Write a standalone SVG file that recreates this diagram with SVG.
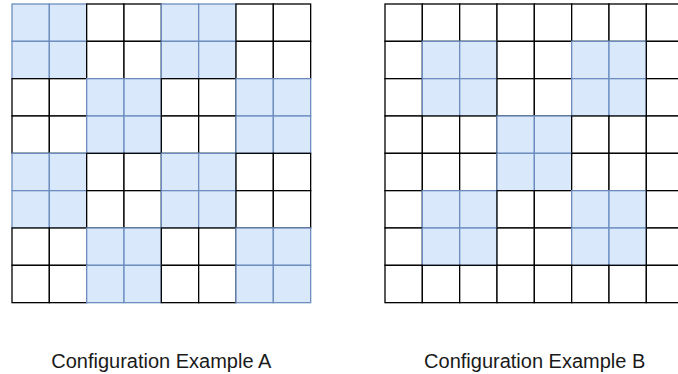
<svg xmlns="http://www.w3.org/2000/svg" width="678" height="374" viewBox="0 0 678 374">
  <style>
    .w { fill: #ffffff; stroke: #000000; stroke-width: 1.3; }
    .b { fill: #dae8fc; stroke: #6c8ebf; stroke-width: 1.3; }
    .label { font-family: "Liberation Sans", Arial, sans-serif; font-size: 20px; fill: #1a1a1a; text-anchor: middle; }
  </style>
  <defs>
    <rect id="cw" class="w" width="37.33" height="37.33"/>
    <rect id="cb" class="b" width="37.33" height="37.33"/>
  </defs>
  <rect width="678" height="374" fill="#ffffff"/>

  <!-- Grid A: 2x2 blocks in checkerboard; cells drawn row by row -->
  <g id="grid-a" transform="translate(12,4)">
    <g transform="translate(0,0)">
      <use href="#cb" x="0"/><use href="#cb" x="37.33"/><use href="#cw" x="74.67"/><use href="#cw" x="112"/>
      <use href="#cb" x="149.33"/><use href="#cb" x="186.67"/><use href="#cw" x="224"/><use href="#cw" x="261.33"/>
    </g>
    <g transform="translate(0,37.33)">
      <use href="#cb" x="0"/><use href="#cb" x="37.33"/><use href="#cw" x="74.67"/><use href="#cw" x="112"/>
      <use href="#cb" x="149.33"/><use href="#cb" x="186.67"/><use href="#cw" x="224"/><use href="#cw" x="261.33"/>
    </g>
    <g transform="translate(0,74.67)">
      <use href="#cw" x="0"/><use href="#cw" x="37.33"/><use href="#cb" x="74.67"/><use href="#cb" x="112"/>
      <use href="#cw" x="149.33"/><use href="#cw" x="186.67"/><use href="#cb" x="224"/><use href="#cb" x="261.33"/>
    </g>
    <g transform="translate(0,112)">
      <use href="#cw" x="0"/><use href="#cw" x="37.33"/><use href="#cb" x="74.67"/><use href="#cb" x="112"/>
      <use href="#cw" x="149.33"/><use href="#cw" x="186.67"/><use href="#cb" x="224"/><use href="#cb" x="261.33"/>
    </g>
    <g transform="translate(0,149.33)">
      <use href="#cb" x="0"/><use href="#cb" x="37.33"/><use href="#cw" x="74.67"/><use href="#cw" x="112"/>
      <use href="#cb" x="149.33"/><use href="#cb" x="186.67"/><use href="#cw" x="224"/><use href="#cw" x="261.33"/>
    </g>
    <g transform="translate(0,186.67)">
      <use href="#cb" x="0"/><use href="#cb" x="37.33"/><use href="#cw" x="74.67"/><use href="#cw" x="112"/>
      <use href="#cb" x="149.33"/><use href="#cb" x="186.67"/><use href="#cw" x="224"/><use href="#cw" x="261.33"/>
    </g>
    <g transform="translate(0,224)">
      <use href="#cw" x="0"/><use href="#cw" x="37.33"/><use href="#cb" x="74.67"/><use href="#cb" x="112"/>
      <use href="#cw" x="149.33"/><use href="#cw" x="186.67"/><use href="#cb" x="224"/><use href="#cb" x="261.33"/>
    </g>
    <g transform="translate(0,261.33)">
      <use href="#cw" x="0"/><use href="#cw" x="37.33"/><use href="#cb" x="74.67"/><use href="#cb" x="112"/>
      <use href="#cw" x="149.33"/><use href="#cw" x="186.67"/><use href="#cb" x="224"/><use href="#cb" x="261.33"/>
    </g>
  </g>

  <!-- Grid B: five 2x2 blocks in an X arrangement -->
  <g id="grid-b" transform="translate(385,4)">
    <g transform="translate(0,0)">
      <use href="#cw" x="0"/><use href="#cw" x="37.33"/><use href="#cw" x="74.67"/><use href="#cw" x="112"/>
      <use href="#cw" x="149.33"/><use href="#cw" x="186.67"/><use href="#cw" x="224"/><use href="#cw" x="261.33"/>
    </g>
    <g transform="translate(0,37.33)">
      <use href="#cw" x="0"/><use href="#cb" x="37.33"/><use href="#cb" x="74.67"/><use href="#cw" x="112"/>
      <use href="#cw" x="149.33"/><use href="#cb" x="186.67"/><use href="#cb" x="224"/><use href="#cw" x="261.33"/>
    </g>
    <g transform="translate(0,74.67)">
      <use href="#cw" x="0"/><use href="#cb" x="37.33"/><use href="#cb" x="74.67"/><use href="#cw" x="112"/>
      <use href="#cw" x="149.33"/><use href="#cb" x="186.67"/><use href="#cb" x="224"/><use href="#cw" x="261.33"/>
    </g>
    <g transform="translate(0,112)">
      <use href="#cw" x="0"/><use href="#cw" x="37.33"/><use href="#cw" x="74.67"/><use href="#cb" x="112"/>
      <use href="#cb" x="149.33"/><use href="#cw" x="186.67"/><use href="#cw" x="224"/><use href="#cw" x="261.33"/>
    </g>
    <g transform="translate(0,149.33)">
      <use href="#cw" x="0"/><use href="#cw" x="37.33"/><use href="#cw" x="74.67"/><use href="#cb" x="112"/>
      <use href="#cb" x="149.33"/><use href="#cw" x="186.67"/><use href="#cw" x="224"/><use href="#cw" x="261.33"/>
    </g>
    <g transform="translate(0,186.67)">
      <use href="#cw" x="0"/><use href="#cb" x="37.33"/><use href="#cb" x="74.67"/><use href="#cw" x="112"/>
      <use href="#cw" x="149.33"/><use href="#cb" x="186.67"/><use href="#cb" x="224"/><use href="#cw" x="261.33"/>
    </g>
    <g transform="translate(0,224)">
      <use href="#cw" x="0"/><use href="#cb" x="37.33"/><use href="#cb" x="74.67"/><use href="#cw" x="112"/>
      <use href="#cw" x="149.33"/><use href="#cb" x="186.67"/><use href="#cb" x="224"/><use href="#cw" x="261.33"/>
    </g>
    <g transform="translate(0,261.33)">
      <use href="#cw" x="0"/><use href="#cw" x="37.33"/><use href="#cw" x="74.67"/><use href="#cw" x="112"/>
      <use href="#cw" x="149.33"/><use href="#cw" x="186.67"/><use href="#cw" x="224"/><use href="#cw" x="261.33"/>
    </g>
  </g>

  <g id="label-a"><text class="label" x="161.3" y="368">Configuration Example A</text></g>
  <g id="label-b"><text class="label" x="534.7" y="368">Configuration Example B</text></g>
  <g id="connectors"/>
</svg>
